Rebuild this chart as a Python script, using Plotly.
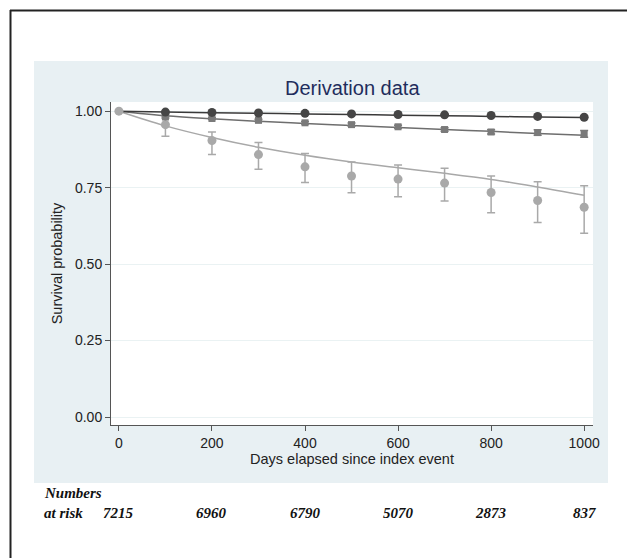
import plotly.graph_objects as go

# ---- data ----
days_curve = [0, 100, 200, 300, 400, 500, 600, 700, 800, 900, 1000]
fit_dark = [1.0, 0.997, 0.995, 0.993, 0.991, 0.989, 0.987, 0.985, 0.983, 0.981, 0.979]
fit_mid = [1.0, 0.985, 0.975, 0.967, 0.960, 0.953, 0.947, 0.940, 0.934, 0.927, 0.921]
fit_light = [1.0, 0.952, 0.914, 0.882, 0.856, 0.834, 0.815, 0.797, 0.777, 0.752, 0.725]

days_pts = [100, 200, 300, 400, 500, 600, 700, 800, 900, 1000]
pts_dark = [0.997, 0.996, 0.994, 0.993, 0.991, 0.989, 0.988, 0.986, 0.983, 0.980]
pts_mid = [0.981, 0.976, 0.970, 0.962, 0.956, 0.949, 0.940, 0.932, 0.930, 0.926]
err_mid = [0.003, 0.003, 0.004, 0.004, 0.005, 0.005, 0.006, 0.007, 0.009, 0.011]
pts_light = [0.956, 0.904, 0.858, 0.818, 0.788, 0.778, 0.765, 0.734, 0.708, 0.686]
up_light = [0.989, 0.932, 0.898, 0.862, 0.834, 0.824, 0.813, 0.788, 0.769, 0.756]
lo_light = [0.918, 0.858, 0.810, 0.767, 0.733, 0.720, 0.706, 0.668, 0.636, 0.601]

origin_day = [0]
origin_val = [1.0]

risk_days = [0, 200, 400, 600, 800, 1000]
risk_numbers = ["7215", "6960", "6790", "5070", "2873", "837"]

# ---- figure ----
W, H = 627, 558
L, R, T, B = 111, 593, 102, 425
pw, ph = R - L, B - T


def px(xp):
    return (xp - L) / pw


def py(yp):
    return (B - yp) / ph


fig = go.Figure()

c_dark, c_mid, c_light = "#454545", "#7a7a7a", "#a9a9a9"

fig.add_trace(go.Scatter(x=days_curve, y=fit_light, mode="lines", line=dict(color="#a8a8a8", width=1.5, shape="spline")))
fig.add_trace(go.Scatter(x=days_curve, y=fit_mid, mode="lines", line=dict(color="#6e6e6e", width=1.5, shape="spline")))
fig.add_trace(go.Scatter(x=days_curve, y=fit_dark, mode="lines", line=dict(color="#3a3a3a", width=1.5, shape="spline")))

up_err = [u - p for u, p in zip(up_light, pts_light)]
lo_err = [p - l for p, l in zip(pts_light, lo_light)]
fig.add_trace(go.Scatter(
    x=days_pts, y=pts_light, mode="markers",
    marker=dict(color=c_light, size=9, symbol="circle"),
    error_y=dict(type="data", array=up_err, arrayminus=lo_err, color=c_light, thickness=1.5, width=4)))
fig.add_trace(go.Scatter(
    x=days_pts, y=pts_mid, mode="markers",
    marker=dict(color=c_mid, size=7, symbol="square"),
    error_y=dict(type="data", array=err_mid, color=c_mid, thickness=1.5, width=4)))
fig.add_trace(go.Scatter(
    x=days_pts, y=pts_dark, mode="markers",
    marker=dict(color=c_dark, size=9, symbol="circle")))
fig.add_trace(go.Scatter(
    x=origin_day, y=origin_val, mode="markers",
    marker=dict(color=c_light, size=9, symbol="circle")))

shapes = [
    # light blue panel
    dict(type="rect", xref="paper", yref="paper", x0=px(34), x1=px(608), y0=py(483), y1=py(61),
         fillcolor="#e8f0f3", line=dict(width=0), layer="below"),
    # white plot area
    dict(type="rect", xref="paper", yref="paper", x0=0, x1=px(R), y0=0, y1=py(T),
         fillcolor="white", line=dict(width=0), layer="below"),
    # outer border lines (top & left)
    dict(type="line", xref="paper", yref="paper", x0=px(10), x1=px(640), y0=py(10.5), y1=py(10.5),
         line=dict(color="#222", width=2)),
    dict(type="line", xref="paper", yref="paper", x0=px(10.5), x1=px(10.5), y0=py(10), y1=py(570),
         line=dict(color="#222", width=2)),
]

serif = "Times New Roman, Liberation Serif"
annotations = [
    dict(text="Derivation data", xref="paper", yref="paper", x=px(352), y=py(88),
         showarrow=False, font=dict(family="Arial, Liberation Sans", size=20, color="#1f2d5c"),
         xanchor="center", yanchor="middle"),
    dict(text="<b><i>Numbers</i></b>", xref="paper", yref="paper", x=px(42), y=py(493),
         showarrow=False, font=dict(family=serif, size=15, color="#111"),
         xanchor="left", yanchor="middle"),
    dict(text="<b><i>at risk</i></b>", xref="paper", yref="paper", x=px(42), y=py(513),
         showarrow=False, font=dict(family=serif, size=15, color="#111"),
         xanchor="left", yanchor="middle"),
]
for d, n in zip(risk_days, risk_numbers):
    annotations.append(dict(text="<b><i>" + n + "</i></b>", xref="x", yref="paper", x=d, y=py(513),
                            showarrow=False, xanchor="center", yanchor="middle",
                            font=dict(family=serif, size=15, color="#111")))

fig.update_layout(
    width=W, height=H,
    margin=dict(l=L, r=W - R, t=T, b=H - B, pad=0),
    paper_bgcolor="white", plot_bgcolor="white",
    showlegend=False,
    shapes=shapes, annotations=annotations,
    font=dict(family="Arial, Liberation Sans", color="#222"),
)
fig.update_xaxes(
    range=[-17, 1019], tickvals=[0, 200, 400, 600, 800, 1000],
    showgrid=False, zeroline=False, showline=True, linecolor="#555", linewidth=1,
    ticks="outside", ticklen=5, tickcolor="#555", tickfont=dict(size=14, color="#222"),
    title=dict(text="Days elapsed since index event", font=dict(size=14.5, color="#222"), standoff=0),
)
fig.update_yaxes(
    range=[-0.026, 1.03], tickvals=[0, 0.25, 0.5, 0.75, 1.0], tickformat=".2f",
    showgrid=True, gridcolor="#eaf2f3", gridwidth=1, zeroline=False,
    showline=True, linecolor="#555", linewidth=1,
    ticks="outside", ticklen=5, tickcolor="#555", tickfont=dict(size=14, color="#222"),
    title=dict(text="Survival probability", font=dict(size=14.5, color="#222"), standoff=8),
)

fig.write_html("out.html", config={"displayModeBar": False},
               post_script="document.body.style.margin='0';document.body.style.overflow='hidden';")
